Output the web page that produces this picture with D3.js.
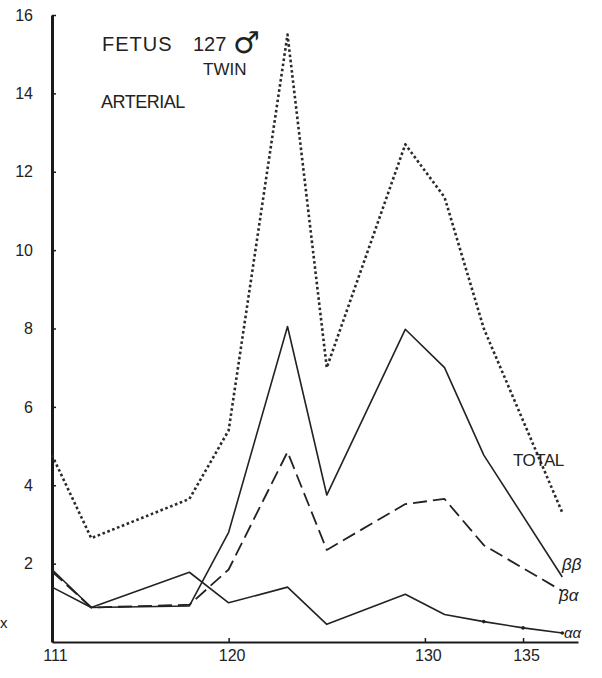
<!DOCTYPE html>
<html>
<head>
<meta charset="utf-8">
<script src="https://cdn.jsdelivr.net/npm/d3@7"></script>
<style>
  html, body { margin: 0; padding: 0; background: #fff; }
  svg { display: block; }
  text { font-family: "Liberation Sans", Arial, sans-serif; fill: #222; }
</style>
</head>
<body>
<svg id="chart" width="602" height="678"></svg>
<script>
// ---- data ----
const days = [111, 113, 118, 120, 123, 125, 129, 131, 133, 137];
const total = [4.77, 2.65, 3.65, 5.4, 15.5, 7.0, 12.7, 11.35, 8.0, 3.3];
const betaBeta = [1.85, 0.88, 0.92, 2.8, 8.05, 3.75, 7.98, 7.0, 4.77, 1.66];
const betaAlpha = [1.8, 0.88, 0.95, 1.85, 4.85, 2.35, 3.52, 3.65, 2.47, 1.3];
const alphaDays = [111, 113, 118, 120, 123, 125, 129, 131, 133, 135, 137];
const alphaAlpha = [1.4, 0.88, 1.78, 1.0, 1.4, 0.45, 1.22, 0.7, 0.52, 0.36, 0.23];
const yTicks = [2, 4, 6, 8, 10, 12, 14, 16];
const xTicks = [111, 120, 130, 135];
const seriesLabels = ["TOTAL", "ββ", "βα", "αα"];

// ---- layout ----
const svg = d3.select("#chart");
const x = d3.scaleLinear().domain([111, 137.8]).range([52, 578]);
const y = d3.scaleLinear().domain([0, 16]).range([642, 15]);

// axes
const yAxis = d3.axisLeft(y).tickValues(yTicks).tickSize(-4).tickSizeOuter(0).tickPadding(19);
const gy = svg.append("g").attr("transform", `translate(${x(111)},0)`).call(yAxis);
gy.select(".domain").attr("stroke", "#1a1a1a").attr("stroke-width", 3);
gy.selectAll(".tick line").attr("stroke", "#1a1a1a").attr("stroke-width", 1.5);
gy.selectAll(".tick text").style("font-size", "16px").attr("fill", "#1a1a1a");

const xAxis = d3.axisBottom(x).tickValues(xTicks).tickSize(-4).tickSizeOuter(0).tickPadding(8);
const gx = svg.append("g").attr("transform", `translate(0,${y(0)})`).call(xAxis);
gx.select(".domain").attr("stroke", "#1a1a1a").attr("stroke-width", 2.2);
gx.selectAll(".tick line").attr("stroke", "#1a1a1a").attr("stroke-width", 1.5);
gx.selectAll(".tick text").style("font-size", "16px").attr("fill", "#1a1a1a").attr("dx", "3");
gx.selectAll(".tick").filter(d => d === 111).select("line").remove();

// lines
const line = d3.line().x(d => x(d[0])).y(d => y(d[1]));
function drawSeries(xs, ys, style) {
  const pts = xs.map((d, i) => [d, ys[i]]);
  svg.append("path").datum(pts)
    .attr("d", line)
    .attr("fill", "none")
    .attr("stroke", style.color || "#222")
    .attr("stroke-width", style.width)
    .attr("stroke-dasharray", style.dash || null)
    .attr("stroke-linejoin", "round")
    .attr("stroke-linecap", style.cap || "butt");
  return pts;
}
drawSeries(days, total, {width: 2.6, dash: "2.6,2.6", color: "#2a2a2a"});
drawSeries(days, betaBeta, {width: 1.6, color: "#222"});
drawSeries(days, betaAlpha, {width: 1.8, dash: "14,6", color: "#222"});
const aaPts = drawSeries(alphaDays, alphaAlpha, {width: 1.6, color: "#222"});
svg.selectAll(".aadot").data(aaPts.slice(-3)).enter().append("circle")
  .attr("cx", d => x(d[0])).attr("cy", d => y(d[1])).attr("r", 1.8).attr("fill", "#222");

// titles
svg.append("text").attr("x", 102).attr("y", 51).style("font-size", "20px").style("letter-spacing", "1px").attr("fill", "#333").text("FETUS");
svg.append("text").attr("x", 193).attr("y", 51).style("font-size", "20px").attr("fill", "#333").text("127");
svg.append("text").attr("x", 233).attr("y", 53).style("font-size", "30px").style("font-family", "DejaVu Sans").attr("fill", "#555").text("♂");
svg.append("text").attr("x", 203).attr("y", 75).style("font-size", "17px").attr("fill", "#333").text("TWIN");
svg.append("text").attr("x", 101).attr("y", 108).style("font-size", "18px").style("letter-spacing", "-0.5px").attr("fill", "#333").text("ARTERIAL");

// series labels
svg.append("text").attr("x", 513).attr("y", 466).style("font-size", "17px").style("letter-spacing", "-0.5px").attr("fill", "#333").text(seriesLabels[0]);
svg.append("text").attr("x", 562).attr("y", 570).style("font-size", "17px").style("font-style", "italic").attr("fill", "#555").text(seriesLabels[1]);
svg.append("text").attr("x", 559).attr("y", 601).style("font-size", "17px").style("font-style", "italic").attr("fill", "#444").text(seriesLabels[2]);
svg.append("text").attr("x", 564).attr("y", 638).style("font-size", "15px").style("font-style", "italic").attr("fill", "#444").text(seriesLabels[3]);
svg.append("text").attr("x", 0).attr("y", 628).style("font-size", "15px").text("x");
</script>
</body>
</html>
